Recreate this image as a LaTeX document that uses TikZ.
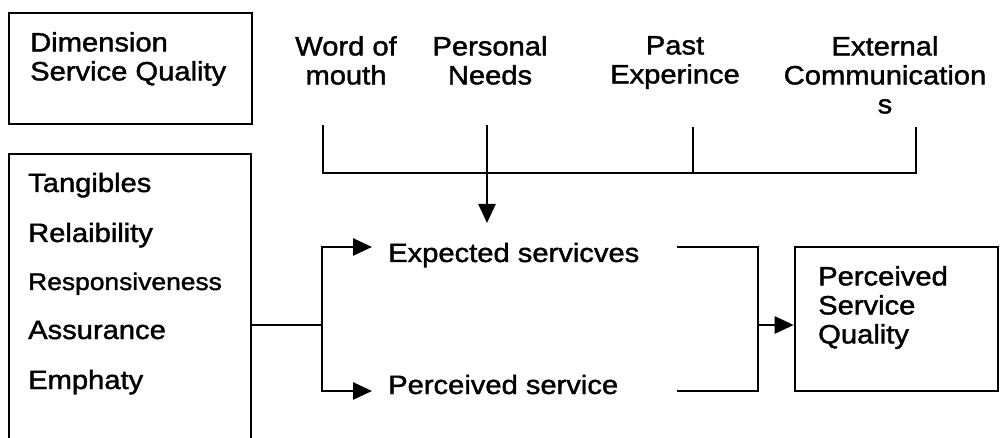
\documentclass[tikz,border=0pt]{standalone}
\usepackage{fontspec}
\setmainfont{Liberation Sans}[FakeStretch=1.1,FakeBold=1.5]
\usetikzlibrary{arrows.meta}
\begin{document}
\begin{tikzpicture}[x=1pt,y=-1pt,
  conn/.style={line width=2.6pt},
  arr/.style={line width=2.6pt,-{Triangle[length=19pt,width=17pt]}},
  box/.style={draw,line width=2.6pt,inner sep=0pt},
  lbl/.style={inner sep=0pt,font=\fontsize{26.5}{29}\selectfont},
]
\useasboundingbox (0,0) rectangle (1004,438);

% boxes
\node[box,minimum width=243pt,minimum height=111pt] (dimbox) at (130.5,68.5) {};
\node[box,minimum width=242pt,minimum height=342pt] (dimlist) at (130,325) {};
\node[box,minimum width=203pt,minimum height=144pt] (psq) at (896.5,319) {};

% box texts
\node[lbl,align=left,anchor=north west] (dimtext) at (30,32) {Dimension\\Service Quality};
\node[lbl,anchor=base west] (t1) at (28,192) {Tangibles};
\node[lbl,anchor=base west] (t2) at (28,242) {Relaibility};
\node[lbl,anchor=base west,font=\fontsize{24}{29}\selectfont] (t3) at (28,290) {Responsiveness};
\node[lbl,anchor=base west] (t4) at (28,339) {Assurance};
\node[lbl,anchor=base west] (t5) at (28,389) {Emphaty};
\node[lbl,align=left,anchor=north west] (psqtext) at (818,266) {Perceived\\Service\\Quality};

% top labels
\node[lbl,align=center,anchor=north] (wom) at (346,36) {Word of\\mouth};
\node[lbl,align=center,anchor=north] (pn) at (490,36) {Personal\\Needs};
\node[lbl,align=center,anchor=north] (pe) at (675,36) {Past\\Experince};
\node[lbl,align=center,anchor=north] (ec) at (885,36) {External\\Communication\\s};

% middle labels
\node[lbl,anchor=base west] (exp) at (388,262) {Expected servicves};
\node[lbl,anchor=base west] (per) at (388,394) {Perceived service};

% coordinates
\coordinate (womb) at (323,125);
\coordinate (pnb) at (487,125);
\coordinate (peb) at (693,127);
\coordinate (ecb) at (916,127);
\coordinate (bar) at (0,173);
\coordinate (pnend) at (487,223);
\coordinate (lj) at (322,325);
\coordinate (expin) at (372,247);
\coordinate (perin) at (372,391);
\coordinate (expout) at (677,247);
\coordinate (perout) at (677,391);
\coordinate (rj) at (758,325);

% top bracket
\draw[conn] (womb) -- (womb |- bar) -- (ecb |- bar) -- (ecb);
\draw[conn] (peb) -- (peb |- bar);
\draw[arr] (pnb) -- (pnend);

% left fork
\draw[conn] (dimlist.east |- lj) -- (lj);
\draw[arr] (lj) -- (lj |- expin) -- (expin);
\draw[arr] (lj) -- (lj |- perin) -- (perin);

% right join
\draw[conn] (expout) -- (rj |- expout) -- (rj |- perout) -- (perout);
\draw[arr] (rj) -- (rj -| psq.west);
\end{tikzpicture}
\end{document}
